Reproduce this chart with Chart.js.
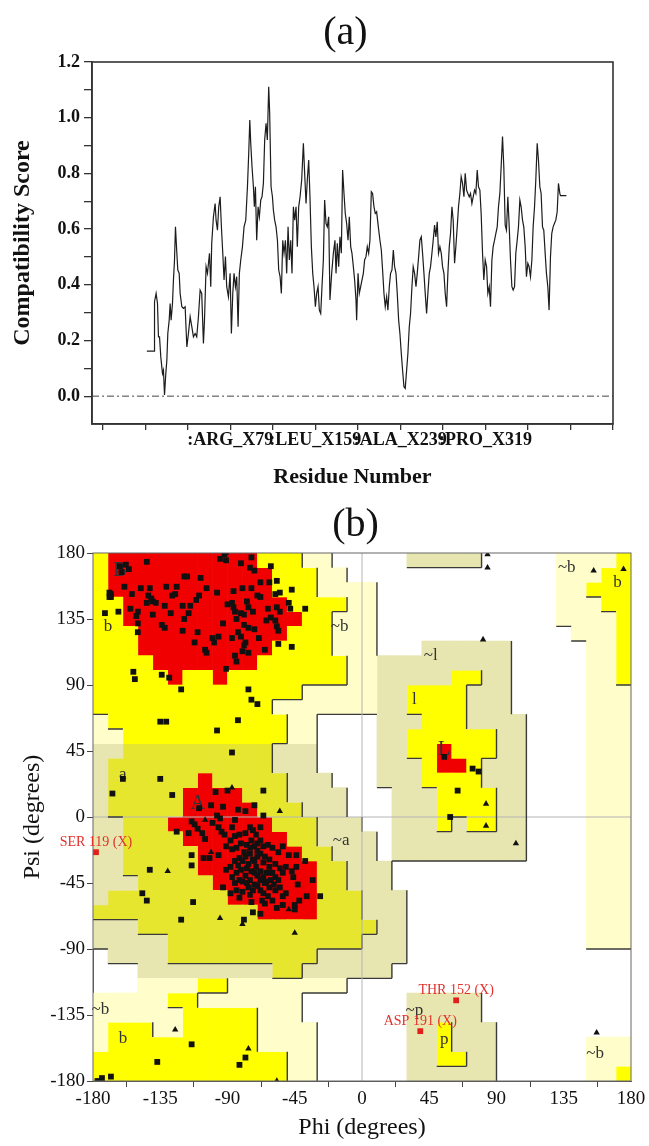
<!DOCTYPE html>
<html>
<head>
<meta charset="utf-8">
<script src="https://cdn.jsdelivr.net/npm/chart.js@4.4.1/dist/chart.umd.min.js"></script>
<style>
  html, body { margin: 0; padding: 0; background: #fff; }
  body { width: 649px; height: 1146px; position: relative; overflow: hidden; font-family: 'Liberation Serif', 'Times New Roman', serif; }
  canvas { position: absolute; left: 0; }
  #chartA { top: 0; }
  #chartB { top: 500px; }
  .panel-title { position: absolute; left: 0; width: 649px; text-align: center; font-size: 40px; line-height: 40px; color: #111; }
</style>
</head>
<body>
<canvas id="chartA" width="649" height="500"></canvas>
<canvas id="chartB" width="649" height="646"></canvas>
<div class="panel-title" style="top:11px; left:21px">(a)</div>
<div class="panel-title" style="top:503px; left:31px">(b)</div>
<script>
// --- Panel (a): compatibility score profile ---
const scoreResidue = [
  0.6, 7.5, 7.8, 9.3, 10.6, 11.5, 12.5, 13.7, 15.3, 16.2,
  17.2, 18.4, 19.4, 20.3, 21.6, 22.5, 23.4, 24.7, 25.6, 26.6,
  27.5, 28.8, 29.7, 31.0, 31.9, 33.5, 35.0, 36.6, 38.2, 39.7,
  41.3, 42.9, 44.4, 46.0, 47.5, 49.1, 50.7, 52.2, 53.8, 54.8,
  56.3, 57.6, 59.5, 60.7, 61.6, 63.2, 64.8, 65.7, 67.0, 68.2,
  69.5, 70.7, 72.0, 73.2, 74.5, 75.7, 77.3, 78.9, 80.1, 81.4,
  82.6, 83.9, 85.1, 86.4, 87.6, 88.9, 90.5, 92.0, 93.6, 95.2,
  96.4, 97.4, 98.3, 99.5, 100.8, 101.7, 102.7, 103.9, 105.2, 106.4,
  107.7, 108.9, 110.2, 111.4, 112.7, 113.9, 115.2, 116.1, 117.4, 118.7,
  119.6, 120.8, 122.1, 123.4, 124.6, 125.9, 127.1, 128.4, 129.6, 130.9,
  132.1, 133.4, 134.6, 135.9, 137.1, 138.4, 139.6, 140.9, 142.1, 143.4,
  144.7, 146.2, 147.8, 149.0, 150.3, 151.5, 152.8, 154.0, 155.3, 156.6,
  157.8, 159.1, 160.3, 161.6, 162.8, 164.1, 165.3, 166.6, 167.8, 169.1,
  170.3, 171.6, 172.8, 174.4, 176.0, 177.5, 178.5, 179.7, 181.0, 182.2,
  183.5, 184.7, 186.0, 187.2, 188.5, 189.8, 191.0, 192.3, 193.5, 194.8,
  196.0, 197.3, 197.9, 199.2, 200.4, 201.7, 202.9, 204.2, 205.4, 206.7,
  207.9, 209.2, 210.4, 211.7, 212.9, 214.2, 215.4, 216.7, 218.3, 219.8,
  221.1, 222.3, 223.6, 224.8, 226.1, 227.3, 228.6, 229.8, 231.1, 232.4,
  233.6, 234.9, 236.1, 237.4, 238.6, 239.9, 241.1, 242.4, 243.6, 244.9,
  246.1, 247.4, 248.6, 249.9, 251.1, 252.4, 253.7, 254.9, 256.2, 257.4,
  258.7, 259.9, 261.2, 262.4, 263.7, 264.9, 266.2, 267.4, 268.7, 269.9,
  271.2, 272.4, 273.7, 274.9, 276.2, 277.5, 278.7, 280.0, 281.2, 282.5,
  283.7, 285.0, 286.2, 287.5, 288.7, 290.0, 291.2, 292.5, 293.7, 295.0,
  296.2, 297.5, 298.8, 300.0, 301.3, 302.5, 303.8, 305.0, 306.3, 307.5,
  308.8, 310.0, 311.3, 312.5, 313.8, 315.0, 316.3, 317.5, 318.8, 320.1,
  321.3, 322.6, 323.8, 325.1, 326.3, 327.6, 328.8, 330.1, 331.3, 332.6,
  333.8, 335.1, 336.3, 337.6, 338.8, 340.1, 341.4, 342.6, 343.9, 345.1,
  346.4, 347.6, 348.9, 350.1, 351.4, 352.6, 353.9, 355.1, 356.4, 357.6,
  358.9, 360.1, 361.4, 362.7, 363.9, 365.2, 366.4, 367.7, 368.9, 370.2,
  371.4, 372.7, 373.9, 375.2, 376.4, 377.7, 378.9, 380.2, 381.4, 382.7,
  383.9, 385.2, 386.5, 387.7, 389.0, 389.6, 395.2
];
const scoreValue = [
  0.162, 0.162, 0.339, 0.369, 0.333, 0.213, 0.213, 0.141, 0.081, 0.093,
  0.004, 0.081, 0.129, 0.225, 0.273, 0.333, 0.273, 0.333, 0.417, 0.489,
  0.608, 0.513, 0.453, 0.441, 0.369, 0.321, 0.315, 0.321, 0.177, 0.225,
  0.285, 0.249, 0.213, 0.225, 0.213, 0.285, 0.381, 0.369, 0.189, 0.273,
  0.465, 0.441, 0.513, 0.393, 0.549, 0.644, 0.692, 0.632, 0.596, 0.680,
  0.716, 0.608, 0.513, 0.417, 0.501, 0.393, 0.357, 0.441, 0.225, 0.369,
  0.441, 0.393, 0.429, 0.249, 0.441, 0.489, 0.537, 0.608, 0.632, 0.752,
  0.872, 0.992, 0.908, 0.824, 0.752, 0.680, 0.752, 0.560, 0.680, 0.644,
  0.704, 0.716, 0.764, 0.920, 0.980, 0.920, 1.111, 1.016, 0.752, 0.716,
  0.668, 0.632, 0.608, 0.560, 0.453, 0.429, 0.369, 0.560, 0.513, 0.560,
  0.441, 0.608, 0.489, 0.560, 0.441, 0.680, 0.632, 0.680, 0.537, 0.680,
  0.716, 0.776, 0.908, 0.800, 0.692, 0.776, 0.848, 0.716, 0.537, 0.441,
  0.393, 0.321, 0.369, 0.393, 0.309, 0.297, 0.393, 0.489, 0.704, 0.620,
  0.608, 0.644, 0.345, 0.441, 0.513, 0.560, 0.441, 0.549, 0.465, 0.572,
  0.513, 0.812, 0.728, 0.656, 0.620, 0.560, 0.644, 0.537, 0.513, 0.465,
  0.417, 0.345, 0.273, 0.441, 0.369, 0.393, 0.417, 0.441, 0.489, 0.501,
  0.537, 0.513, 0.560, 0.734, 0.728, 0.680, 0.656, 0.662, 0.608, 0.560,
  0.525, 0.453, 0.369, 0.321, 0.357, 0.309, 0.393, 0.441, 0.453, 0.525,
  0.465, 0.441, 0.369, 0.273, 0.225, 0.153, 0.093, 0.034, 0.028, 0.093,
  0.153, 0.249, 0.297, 0.393, 0.465, 0.441, 0.393, 0.441, 0.501, 0.560,
  0.572, 0.513, 0.441, 0.369, 0.297, 0.369, 0.441, 0.465, 0.513, 0.560,
  0.614, 0.572, 0.626, 0.513, 0.537, 0.513, 0.465, 0.441, 0.369, 0.321,
  0.441, 0.537, 0.584, 0.680, 0.632, 0.477, 0.537, 0.608, 0.680, 0.728,
  0.788, 0.764, 0.716, 0.800, 0.740, 0.728, 0.716, 0.728, 0.692, 0.716,
  0.740, 0.728, 0.812, 0.752, 0.740, 0.656, 0.513, 0.417, 0.489, 0.465,
  0.369, 0.393, 0.321, 0.489, 0.537, 0.560, 0.584, 0.608, 0.680, 0.728,
  0.824, 0.932, 0.824, 0.614, 0.596, 0.716, 0.608, 0.489, 0.393, 0.381,
  0.393, 0.513, 0.560, 0.608, 0.704, 0.680, 0.632, 0.608, 0.537, 0.429,
  0.477, 0.465, 0.429, 0.489, 0.608, 0.680, 0.776, 0.908, 0.848, 0.752,
  0.728, 0.608, 0.596, 0.513, 0.441, 0.393, 0.309, 0.501, 0.584, 0.608,
  0.620, 0.632, 0.662, 0.764, 0.728, 0.720, 0.720
];
const residueRange = [-51, 439];
const residueTicks = [-41, -1, 39, 79, 119, 159, 199, 239, 279, 319, 359, 399, 439];
const namedResidues = [79, 159, 239, 319];
const namedResidueLabels = [':ARG_X79', ':LEU_X159', ':ALA_X239', ':PRO_X319'];
const scoreTicks = [0, 0.1, 0.2, 0.3, 0.4, 0.5, 0.6, 0.7, 0.8, 0.9, 1.0, 1.1, 1.2];
const scoreTickLabels = ['0.0', '', '0.2', '', '0.4', '', '0.6', '', '0.8', '', '1.0', '', '1.2'];

// --- Panel (b): Ramachandran plot ---
// region map, 10 degree cells: rows psi 180 -> -180, columns phi -180 -> 180
// R core, Y allowed, O allowed (shaded), K generous (shaded), C generous, W outside
const regionRows = [
  'YRRRRRRRRRRYYYCCWWWWWKKKKKWWWWWCCCCY',
  'YRRRRRRRRRRRYYYCCWWWWWWWWWWWWWWCCCYY',
  'YRRRRRRRRRRRYYYCCCCWWWWWWWWWWWWCCYYY',
  'YYRRRRRRRRRRRYYYYCCWWWWWWWWWWWWCCCYY',
  'YYRRRRRRRRRRRRYYCCCWWWWWWWWWWWWCCCCY',
  'YYYRRRRRRRRRRYYYCCCWWWWWWWWWWWWWCCCY',
  'YYYRRRRRRRRRYYYYCCCWWWKKKKKKWWWWWCCY',
  'YYYYRRRRRRRYYYYYYCCKKKKKKKKKWWWWWCCY',
  'YYYYYRYYRYYYYYYYYCCKKKKKYYKKWWWWWCCY',
  'YYYYYYYYYYYYYYCCCCCKKYYYYKKKWWWWWCCC',
  'YYYYYYYYYYYYCCCCCCCKKYYYYKKKWWWWWCCC',
  'CYYYYYYYYYYYYCCWWWWKKKYYYKKKKWWWWCCC',
  'CCYYYYYYYYYYYCCWWWWKKYYYYYYKKWWWWCCC',
  'KKOOOOOOOOOOKKKWWWWKKYYRYYYKKWWWWCCC',
  'KOOOOOOOOOOOKKKWWWWKKKYRRYKKKWWWWCCC',
  'KOOOOOOROOOOOKKKWWWKKKYYYYKKKWWWWCCC',
  'KOOOOORRRROOOKKKKWWWKKKYYYYKKWWWWCCC',
  'KOOOOORRRRROOOKKKWWWKKKYYYYKKWWWWCCC',
  'KKOOORRRRRRROOOKKKWWKKKYKYYKKWWWWCCC',
  'KKOOOORRRRRRROOKKKKWKKKKKKKKKWWWWCCC',
  'KKOOOOORRRRRRROOKKKWKKKKKKKKKWWWWCCC',
  'KKOOOOORRRRRRRROOKKKWWWWWWWWWWWWWCCC',
  'KKKOOOOORRRRRRROOKKKWWWWWWWWWWWWWCCC',
  'KOOOOOOOORRRRRROOOKKKWWWWWWWWWWWWCCC',
  'OOOOOOOOOOORRRROOOKKKWWWWWWWWWWWWCCC',
  'KKKOOOOOOOOOOOOOOOOKKWWWWWWWWWWWWCCC',
  'KKKKKOOOOOOOOOOOOOKKKWWWWWWWWWWWWCCC',
  'WKKKKOOOOOOOOOOKKKKKKWWWWWWWWWWWWWWW',
  'WWWKKKKKKKKKOOKKKKKKWWWWWWWWWWWWWWWW',
  'WWWCCCCYYCCCCCCCCWWWWWWWWWWWWWWWWWWW',
  'CCCCCYYCCCCCCCWWWWWWWKKKKKWWWWWWWWWW',
  'CCCCCCYYYYYCCCWWWWWWWKKKKKWWWWWWWWWW',
  'CYYYCCYYYYYCCCCWWWWWWKKYKKKWWWWWWWWW',
  'CYYYYYYYYYYCCCCWWWWWWKKYKKKWWWWWWCCC',
  'YYYYYYYYYYYYYCCWWWWWWKKYYKKWWWWWWCCC',
  'YYYYYYYYYYYYYCCWWWWWWKKKKKKWWWWWWCCY'
];
const regionCodes = ['C', 'K', 'Y', 'O', 'R'];
const regionLabelText = ['B', 'b', '~b', 'a', 'A', '~a', '~l', 'l', 'L', '~p', 'p', '~b', '~b', 'b', '~b', 'b'];
const regionLabelPhi = [-162, -170, -15, -160, -110, -14, 46, 35, 55, 35, 55, 156, 137, 171, -175, -160];
const regionLabelPsi = [168, 130, 130, 29, 9, -16, 110, 80, 46, -132, -152, -161, 170, 160, -131, -151];

const nonGlyPoints = [
  [-144,174],[-162,171],[-158,172],[-156,169],[-161,167],[-92,179],[-95,176],[-91,175],[-81,173],[-74,177],
  [-75,170],[-72,168],[-61,171],[-119,164],[-117,164],[-108,163],[-159,157],[-148,156],[-154,152],[-142,156],
  [-131,157],[-124,157],[-125,152],[-127,151],[-104,156],[-97,153],[-86,154],[-80,156],[-74,156],[-68,160],
  [-62,160],[-57,161],[-70,151],[-68,150],[-58,152],[-55,153],[-47,155],[-168,152],[-168,150],[-172,139],
  [-163,140],[-143,151],[-141,149],[-140,147],[-138,146],[-144,146],[-155,142],[-150,140],[-140,138],[-132,144],
  [-128,139],[-120,144],[-115,144],[-111,148],[-116,139],[-119,135],[-150,132],[-150,126],[-134,131],[-132,129],
  [-120,127],[-110,126],[-112,119],[-99,119],[-93,132],[-90,145],[-87,146],[-86,143],[-85,140],[-81,139],
  [-79,138],[-84,135],[-77,147],[-63,142],[-57,143],[-55,140],[-49,146],[-48,142],[-38,142],[-61,136],
  [-58,134],[-57,130],[-56,127],[-64,134],[-87,122],[-83,126],[-81,123],[-78,119],[-79,117],[-76,129],
  [-72,128],[-69,122],[-76,112],[-65,114],[-80,113],[-85,110],[-84,106],[-105,114],[-104,112],[-56,118],
  [-47,116],[-91,101],[-153,99],[-152,94],[-134,97],[-129,95],[-121,87],[-76,87],[-74,80],[-70,77],
  [-83,66],[-97,59],[-135,65],[-131,65],[-87,44],[-109,151],[-76,143],[-73,140],[-100,122],[-96,123],
  [-79,131],[-151,137],[-169,153],[-169,150],
  [-160,26],[-167,16],[-135,26],[-127,15],[-66,18],[-98,17],[-90,18],[-109,6],[-101,8],[-93,7],
  [-83,5],[-78,4],[-72,8],[-66,1],[-97,1],[-95,-1],[-124,-10],[-114,-3],[-112,-5],[-110,-8],
  [-107,-11],[-105,-15],[-116,-11],[-100,-4],[-96,-7],[-94,-10],[-92,-12],[-88,-16],[-85,-13],[-82,-12],
  [-78,-11],[-75,-7],[-73,-9],[-71,-12],[-68,-7],[-68,-16],[-114,-26],[-114,-33],[-106,-28],[-102,-28],
  [-96,-26],[-91,-20],[-87,-22],[-84,-21],[-81,-18],[-77,-19],[-74,-16],[-72,-20],[-70,-18],[-66,-20],
  [-63,-19],[-60,-21],[-56,-24],[-53,-20],[-49,-26],[-44,-26],[-44,-34],[-38,-30],[-51,-34],[-47,-37],
  [-46,-41],[-33,-43],[-28,-54],[-43,-46],[-42,-57],[-45,-63],[-57,-62],[-65,-59],[-53,-54],[-51,-52],
  [-75,-53],[-80,-51],[-74,-58],[-84,-50],[-88,-52],[-82,-55],[-73,-65],[-79,-70],[-113,-58],[-121,-70],
  [-93,-48],[-87,-41],[-84,-38],[-81,-36],[-77,-35],[-91,-36],[-88,-34],[-85,-30],[-82,-28],[-78,-27],
  [-75,-25],[-73,-29],[-71,-34],[-68,-37],[-66,-41],[-64,-44],[-62,-48],[-58,-50],[-55,-48],[-68,-25],
  [-65,-27],[-62,-29],[-58,-32],[-55,-35],[-53,-38],[-72,-38],[-68,-43],[-65,-45],[-62,-38],[-58,-41],
  [-56,-43],[-78,-40],[-75,-43],[-72,-46],[-68,-50],[-80,-44],[-76,-48],[-82,-43],[-85,-45],[-45,-60],
  [-53,-60],[-87,-7],[-85,-2],[-67,-57],[-63,-54],[-60,-57],[-37,-54],[-68,-66],[-80,-30],[-76,-32],
  [-72,-30],[-70,-27],[-79,-24],[-75,-21],[-70,-23],[-66,-31],[-62,-34],[-60,-38],[-64,-38],[-70,-40],
  [-74,-37],[-77,-45],[-73,-50],[-70,-47],[-66,-52],[-61,-43],[-59,-46],[-83,-33],
  [-142,-36],[-147,-52],[-144,-57],
  [-114,-155],[-137,-167],[-82,-169],[-78,-164],[-177,-180],[-174,-178],[-168,-177],
  [55,41],[74,33],[78,31],[64,18],[59,0]
];
const glycinePoints = [
  [-91,180],[-55,4],[-105,-2],[-101,-24],[-130,-37],[-49,-63],[-95,-69],[-80,-73],[-45,-79],[-87,20],
  [-125,-145],[-76,-158],[-57,-180],[84,179],[84,170],[81,121],[83,9],[83,-6],[103,-18],[155,168],
  [175,169],[157,-147]
];
const flaggedNames = ['SER 119 (X)', 'THR 152 (X)', 'ASP 191 (X)'];
const flaggedPoints = [[-178,-24],[63,-125],[39,-146]];
const angleTicks = [-180, -135, -90, -45, 0, 45, 90, 135, 180];

Chart.defaults.font.family = "'Liberation Serif', 'Times New Roman', serif";
Chart.defaults.color = '#111';

// box around the plotting area
const frameBox = {
  id: 'frameBox',
  afterDatasetsDraw(chart, args, opts) {
    const { ctx, chartArea: a } = chart;
    ctx.save();
    ctx.strokeStyle = opts.color;
    ctx.lineWidth = opts.width;
    ctx.strokeRect(a.left, a.top, a.right - a.left, a.bottom - a.top);
    ctx.restore();
  }
};

new Chart(document.getElementById('chartA'), {
  type: 'line',
  data: {
    datasets: [{
      data: scoreResidue.map((r, i) => ({ x: r, y: scoreValue[i] })),
      borderColor: '#1c1c1c',
      borderWidth: 1.2,
      pointRadius: 0,
      tension: 0
    }, {
      data: residueRange.map(r => ({ x: r, y: 0 })),
      borderColor: '#444',
      borderWidth: 1,
      borderDash: [7, 3, 2, 3],
      pointRadius: 0
    }]
  },
  options: {
    responsive: false,
    animation: false,
    events: [],
    layout: { padding: { left: 0, top: 62, right: 36, bottom: 0 } },
    plugins: {
      legend: { display: false },
      tooltip: { enabled: false },
      frameBox: { color: '#333', width: 1.6 }
    },
    scales: {
      x: {
        type: 'linear',
        min: residueRange[0],
        max: residueRange[1],
        afterBuildTicks: s => { s.ticks = residueTicks.map(v => ({ value: v })); },
        afterFit: s => { s.height = 76; },
        ticks: {
          autoSkip: false,
          maxRotation: 0,
          padding: 0,
          color: '#111',
          font: { size: 18, weight: 'bold' },
          callback: v => {
            const i = namedResidues.indexOf(v);
            return i < 0 ? '' : namedResidueLabels[i];
          }
        },
        grid: { drawOnChartArea: false, tickLength: 6, color: '#333', lineWidth: 1.3 },
        border: { color: '#333', width: 1.6 },
        title: {
          display: true, text: 'Residue Number', color: '#111',
          font: { size: 22, weight: 'bold' }, padding: { top: 0, bottom: 9 }
        }
      },
      y: {
        min: -0.1,
        max: 1.2,
        afterBuildTicks: s => { s.ticks = scoreTicks.map(v => ({ value: v })); },
        afterFit: s => { s.width = 92; },
        ticks: {
          padding: 4,
          color: '#111',
          font: { size: 18, weight: 'bold' },
          callback: (v, i) => scoreTickLabels[i]
        },
        grid: { drawOnChartArea: false, tickLength: 8, color: '#333', lineWidth: 1.3 },
        border: { color: '#333', width: 1.6 },
        title: {
          display: true, text: 'Compatibility Score', color: '#111',
          font: { size: 24, weight: 'bold' }, padding: { top: 8, bottom: 0 }
        }
      }
    }
  },
  plugins: [frameBox]
});

// --- Panel (b) ---
const regionColors = { R: '#f00000', Y: '#ffff00', O: '#e6e62e', K: '#e8e6b0', C: '#fffdca' };
const regionLevel = { R: 2, Y: 2, O: 2, K: 1, C: 1, W: 0 };

function regionDataset(code) {
  const data = [];
  for (let c = 0; c < 36; c++) {
    let r = 0;
    while (r < 36) {
      if (regionRows[r][c] !== code) { r++; continue; }
      let end = r;
      while (end + 1 < 36 && regionRows[end + 1][c] === code) end++;
      data.push({ x: -175 + 10 * c, y: [170 - 10 * end, 180 - 10 * r] });
      r = end + 1;
    }
  }
  return {
    type: 'bar', data, backgroundColor: regionColors[code], borderWidth: 0,
    grouped: false, barPercentage: 1, categoryPercentage: 1, order: 3
  };
}

// region outlines, region letters and residue labels
const ramaDecor = {
  id: 'ramaDecor',
  beforeDatasetDraw(chart, args) {
    if (chart.data.datasets[args.index].role !== 'phiZero') return;
    const { ctx, scales: { x, y } } = chart;
    ctx.save();
    ctx.strokeStyle = '#3a3a3a';
    ctx.lineWidth = 1.4;
    ctx.beginPath();
    for (let r = 0; r < 36; r++) {
      for (let c = 0; c < 36; c++) {
        const lv = regionLevel[regionRows[r][c]];
        if (!lv) continue;
        const phiL = -180 + 10 * c, psiT = 180 - 10 * r;
        if (c < 35 && regionLevel[regionRows[r][c + 1]] < lv) {
          ctx.moveTo(x.getPixelForValue(phiL + 10), y.getPixelForValue(psiT));
          ctx.lineTo(x.getPixelForValue(phiL + 10), y.getPixelForValue(psiT - 10));
        }
        if (r < 35 && regionLevel[regionRows[r + 1][c]] < lv) {
          ctx.moveTo(x.getPixelForValue(phiL), y.getPixelForValue(psiT - 10));
          ctx.lineTo(x.getPixelForValue(phiL + 10), y.getPixelForValue(psiT - 10));
        }
      }
    }
    ctx.stroke();
    ctx.fillStyle = '#333';
    ctx.textAlign = 'center';
    ctx.textBaseline = 'middle';
    regionLabelText.forEach((t, i) => {
      const upper = t === t.toUpperCase() && t !== t.toLowerCase();
      ctx.font = (upper ? '20px' : '17px') + " 'Liberation Serif', serif";
      ctx.fillText(t, x.getPixelForValue(regionLabelPhi[i]), y.getPixelForValue(regionLabelPsi[i]));
    });
    ctx.restore();
  },
  afterDatasetsDraw(chart) {
    const { ctx, scales: { x, y } } = chart;
    ctx.save();
    ctx.fillStyle = '#e2302b';
    ctx.font = "14px 'Liberation Serif', serif";
    ctx.textAlign = 'center';
    ctx.textBaseline = 'middle';
    flaggedPoints.forEach((p, i) => {
      ctx.fillText(flaggedNames[i], x.getPixelForValue(p[0]), y.getPixelForValue(p[1]) - 10);
    });
    ctx.restore();
  }
};

const toXY = pts => pts.map(p => ({ x: p[0], y: p[1] }));

new Chart(document.getElementById('chartB'), {
  type: 'scatter',
  data: {
    datasets: [
      ...regionCodes.map(regionDataset),
      {
        type: 'line', role: 'phiZero', data: [{ x: 0, y: -180 }, { x: 0, y: 180 }],
        borderColor: '#b4b4b4', borderWidth: 1, pointRadius: 0, order: 2
      },
      {
        type: 'line', data: [{ x: -180, y: 0 }, { x: 180, y: 0 }],
        borderColor: '#b4b4b4', borderWidth: 1, pointRadius: 0, order: 2
      },
      {
        data: toXY(nonGlyPoints), pointStyle: 'rect', pointRadius: 4.1,
        backgroundColor: '#111', borderWidth: 0, order: 1
      },
      {
        data: toXY(glycinePoints), pointStyle: 'triangle', pointRadius: 3.7,
        backgroundColor: '#111', borderWidth: 0, order: 1
      },
      {
        data: toXY(flaggedPoints), pointStyle: 'rect', pointRadius: 4.1,
        backgroundColor: '#e2201b', borderWidth: 0, order: 1, clip: false
      }
    ]
  },
  options: {
    responsive: false,
    animation: false,
    events: [],
    layout: { padding: { left: 0, top: 53, right: 18, bottom: 0 } },
    plugins: {
      legend: { display: false },
      tooltip: { enabled: false },
      frameBox: { color: '#666', width: 1 }
    },
    scales: {
      x: {
        type: 'linear', min: -180, max: 180, offset: false,
        afterBuildTicks: s => { s.ticks = angleTicks.map(v => ({ value: v })); },
        afterFit: s => { s.height = 65; },
        ticks: { autoSkip: false, maxRotation: 0, padding: 1, font: { size: 19 }, color: '#111' },
        grid: { drawOnChartArea: false, tickLength: 6, color: '#444' },
        border: { color: '#555', width: 1 },
        title: { display: true, text: 'Phi (degrees)', font: { size: 24 }, color: '#111', padding: { top: 0, bottom: 4 } }
      },
      y: {
        type: 'linear', min: -180, max: 180,
        afterBuildTicks: s => { s.ticks = angleTicks.map(v => ({ value: v })); },
        afterFit: s => { s.width = 93; },
        ticks: { padding: 2, font: { size: 19 }, color: '#111' },
        grid: { drawOnChartArea: false, tickLength: 6, color: '#444' },
        border: { color: '#555', width: 1 },
        title: { display: true, text: 'Psi (degrees)', font: { size: 24 }, color: '#111', padding: { top: 18, bottom: 0 } }
      }
    }
  },
  plugins: [frameBox, ramaDecor]
});
</script>
</body>
</html>
